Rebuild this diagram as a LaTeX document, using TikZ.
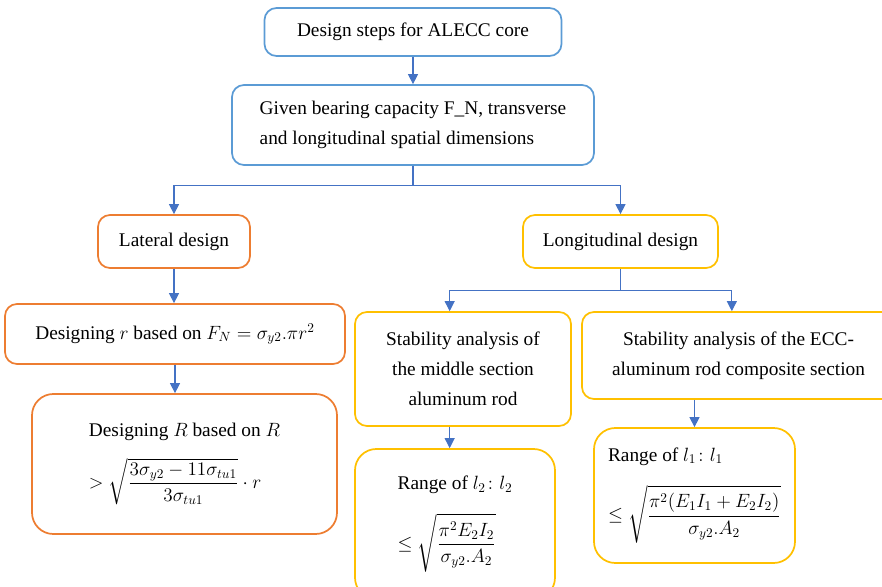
\documentclass[tikz,border=0pt]{standalone}
\usepackage{amsmath}
\usepackage{fontspec}
\setmainfont{Liberation Serif}
\usetikzlibrary{arrows.meta,positioning}
\definecolor{boxblue}{HTML}{5B9BD5}
\definecolor{boxorange}{HTML}{ED7D31}
\definecolor{boxgold}{HTML}{FFC000}
\definecolor{arrblue}{HTML}{4472C4}

\begin{document}
\begin{tikzpicture}[
    x=0.75pt, y=-0.75pt,
    font=\fontsize{14.5}{22.5}\selectfont,
    box/.style={draw, line width=1.3pt, rounded corners=9pt,
                align=center, inner sep=2pt},
    bluebox/.style={box, draw=boxblue},
    orangebox/.style={box, draw=boxorange},
    goldbox/.style={box, draw=boxgold},
    arr/.style={arrblue, line width=0.8pt,
                -{Triangle[length=7.5pt,width=7.5pt]}}]
\useasboundingbox (0,0) rectangle (882,586);

\node (top)   [bluebox, minimum width=222.75pt, minimum height=36pt]
      at (413,32) {Design steps for ALECC core};
\node (given) [bluebox, align=left, minimum width=271.5pt, minimum height=60pt]
      at (413,125) {Given bearing capacity F\_N, transverse\\
                    and longitudinal spatial dimensions};
\node (lat)   [orangebox, minimum width=114pt, minimum height=39.75pt]
      at (174,241.5) {Lateral design};
\node (lon)   [goldbox, minimum width=146.25pt, minimum height=39.75pt]
      at (620.5,241.5) {Longitudinal design};

% lateral branch
\node (desr)  [orangebox, minimum width=255pt, minimum height=45pt]
      at (175,334) {Designing $r$ based on $F_N=\sigma_{y2}.\pi r^2$};
\node (desR)  [orangebox, align=left, rounded corners=16pt,
               minimum width=228.75pt, minimum height=105pt]
      at (184.5,464) {Designing $R$ based on $R$\\[12pt]
      $\displaystyle >\sqrt{\frac{3\sigma_{y2}-11\sigma_{tu1}}{3\sigma_{tu1}}}\cdot r$};

% longitudinal branch
\node (stab1) [goldbox, minimum width=162pt, minimum height=85.5pt]
      at (463,369) {Stability analysis of\\the middle section\\aluminum rod};
\node (stab2) [goldbox, minimum width=234.75pt, minimum height=65.25pt]
      at (738.5,355.5) {Stability analysis of the ECC-\\
                        aluminum rod composite section};
\node (rng2)  [goldbox, align=left, rounded corners=16pt,
               minimum width=150pt, minimum height=112.5pt]
      at (455,524) {Range of $l_2\colon l_2$\\[14pt]
      $\displaystyle \leq\sqrt{\frac{\pi^2E_2I_2}{\sigma_{y2}.A_2}}$};
\node (rng1)  [goldbox, align=left, rounded corners=16pt,
               minimum width=150.75pt, minimum height=101.25pt]
      at (694.5,495.5) {Range of $l_1\colon l_1$\\[14pt]
      $\displaystyle \leq\sqrt{\frac{\pi^2(E_1I_1+E_2I_2)}{\sigma_{y2}.A_2}}$};

\draw[arr] (top) -- (given);
\draw[arr] (given.south) -- ++(0,20) -| (lat.north);
\draw[arr] (given.south) -- ++(0,20) -| (lon.north);
\draw[arr] (lat.south) -- (lat.south |- desr.north);
\draw[arr] (desr.south) -- (desr.south |- desR.north);
\draw[arr] (lon.south) -- ++(0,22) -| ([xshift=-10pt]stab1.north);
\draw[arr] (lon.south) -- ++(0,22) -| ([xshift=-5pt]stab2.north);
\draw[arr] ([xshift=-10pt]stab1.south) -- ([xshift=-10pt]stab1.south |- rng2.north);
\draw[arr] (rng1.north |- stab2.south) -- (rng1.north);
\end{tikzpicture}
\end{document}
